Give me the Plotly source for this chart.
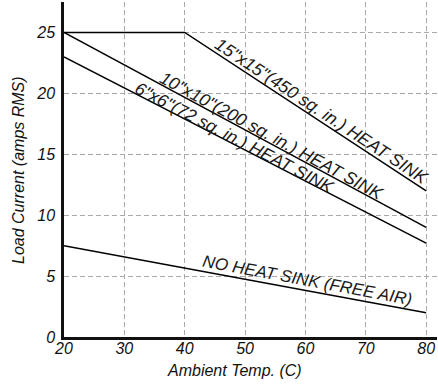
import math
import plotly.graph_objects as go

# derating curves
temp_15 = [20, 40, 80]
amps_15 = [25, 25, 12]
temp_10 = [20, 80]
amps_10 = [25, 9]
temp_6 = [20, 80]
amps_6 = [23, 7.7]
temp_air = [20, 80]
amps_air = [7.5, 2]

x_ticks = [20, 30, 40, 50, 60, 70, 80]
y_ticks = [0, 5, 10, 15, 20, 25]

FONT = "Liberation Sans, Arial, Helvetica, sans-serif"
line_style = dict(color="black", width=1.5)

W, H = 438, 385
ml, mr, mt, mb = 64, 1, 2, 48
pw, ph = W - ml - mr, H - mt - mb

fig = go.Figure()
for xs, ys in [(temp_15, amps_15), (temp_10, amps_10), (temp_6, amps_6), (temp_air, amps_air)]:
    fig.add_trace(go.Scatter(x=xs, y=ys, mode="lines", line=line_style, showlegend=False, hoverinfo="skip"))

# labels along the curves: (text, x, y on line, angle, shift, size)
labels = [
    ('15"x15"(450 sq. in.) HEAT SINK', 62.0, 18.04, 33.3, 7, 17.6),
    ('10"x10"(200 sq. in.) HEAT SINK', 53.9, 15.96, 28.3, 7, 17.6),
    ('6"x6"(72 sq. in.) HEAT SINK', 47.8, 15.86, 27.4, 7, 17.6),
    ('NO HEAT SINK (FREE AIR)', 60.1, 3.82, 10.5, 10, 17),
]
for text, x, y, ang, d, size in labels:
    r = math.radians(ang)
    fig.add_annotation(x=x, y=y, text=text, showarrow=False, textangle=ang,
                       xshift=d * math.sin(r), yshift=d * math.cos(r),
                       font=dict(family=FONT, size=size, color="#1a1a1a", style="italic"))

# axis titles placed in pixels -> paper coords
fig.add_annotation(xref="paper", yref="paper", x=(234 - ml) / pw, y=(H - mb - 370) / ph,
                   xanchor="center", yanchor="middle", text="Ambient Temp. (C)", showarrow=False,
                   font=dict(family=FONT, size=16, color="#111", style="italic"))
fig.add_annotation(xref="paper", yref="paper", x=(18 - ml) / pw, y=(H - mb - 170) / ph,
                   xanchor="center", yanchor="middle", text="Load Current (amps RMS)",
                   showarrow=False, textangle=-90,
                   font=dict(family=FONT, size=16, color="#111", style="italic"))

grid = dict(showgrid=True, gridcolor="#aaaaaa", gridwidth=1, griddash="5px,3px", zeroline=False,
            showline=True, linecolor="#111", linewidth=2.5, ticks="",
            tickfont=dict(family=FONT, size=16, color="#111", style="italic"))

fig.update_layout(
    width=W, height=H,
    margin=dict(l=ml, r=mr, t=mt, b=mb),
    plot_bgcolor="white", paper_bgcolor="white",
    xaxis=dict(range=[20, 81.8], tickvals=x_ticks, ticklabelstandoff=-5, **grid),
    yaxis=dict(range=[0, 27.5], tickvals=y_ticks, ticklabelstandoff=3, **grid),
)

fig.write_html("out.html", config={"displayModeBar": False},
               post_script="document.body.style.margin='0';")
